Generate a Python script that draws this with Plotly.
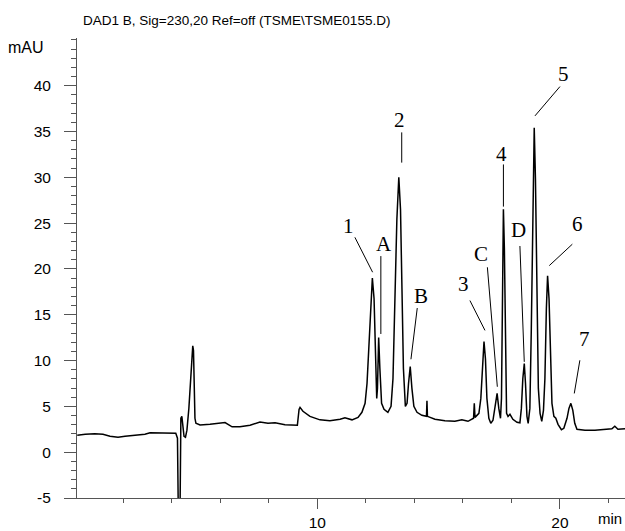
import plotly.graph_objects as go

# Chromatogram trace (time in min, absorbance in mAU)
time_min = [0.11, 0.44, 0.83, 1.17, 1.46, 1.79, 2.08, 2.49, 2.90, 3.11, 3.52, 3.93, 4.17, 4.24, 4.28, 4.34,
            4.38, 4.42, 4.51, 4.57, 4.63, 4.71, 4.80, 4.87, 4.90, 4.96, 5.00, 5.17, 5.58, 5.99, 6.20, 6.49,
            6.81, 7.23, 7.64, 7.97, 8.26, 8.67, 9.08, 9.18, 9.25, 9.29, 9.41, 9.70, 10.11, 10.52, 10.94,
            11.14, 11.43, 11.68, 11.84, 11.97, 12.05, 12.13, 12.22, 12.27, 12.34, 12.40, 12.45, 12.48,
            12.53, 12.58, 12.65, 12.75, 12.91, 13.04, 13.12, 13.20, 13.28, 13.36, 13.43, 13.49, 13.55,
            13.63, 13.70, 13.76, 13.83, 13.90, 13.98, 14.11, 14.31, 14.50, 14.52, 14.54, 14.85, 15.26,
            15.67, 15.96, 16.21, 16.44, 16.47, 16.50, 16.66, 16.74, 16.81, 16.87, 16.93, 16.99, 17.07,
            17.15, 17.24, 17.34, 17.41, 17.48, 17.55, 17.59, 17.63, 17.67, 17.71, 17.75, 17.80, 17.86,
            17.94, 18.06, 18.23, 18.35, 18.41, 18.47, 18.53, 18.58, 18.64, 18.69, 18.76, 18.82, 18.88,
            18.94, 18.99, 19.05, 19.11, 19.18, 19.25, 19.32, 19.38, 19.44, 19.49, 19.55, 19.61, 19.67,
            19.75, 19.83, 19.92, 20.06, 20.16, 20.29, 20.37, 20.45, 20.53, 20.61, 20.70, 21.03, 21.44,
            21.85, 22.14, 22.26, 22.39, 22.68]
absorbance_mau = [1.85, 1.96, 2.00, 1.96, 1.74, 1.63, 1.74, 1.85, 1.96, 2.12, 2.12, 2.07, 2.07, 1.52, -8.0, -8.0,
                  3.70, 3.90, 1.74, 1.63, 2.40, 4.80, 9.10, 11.6, 11.1, 3.70, 3.15, 2.97, 3.04, 3.20, 3.23, 2.77,
                  2.77, 2.93, 3.30, 3.15, 3.20, 2.99, 2.88, 2.93, 4.67, 4.89, 4.46, 3.91, 3.53, 3.42, 3.59,
                  3.75, 3.53, 3.80, 4.35, 5.33, 7.50, 11.85, 16.74, 19.0, 16.74, 11.3, 5.87, 6.96,
                  12.5, 9.13, 5.33, 4.67, 4.35, 5.00, 8.04, 16.74, 25.4, 30.0, 26.5, 17.8, 9.13,
                  5.00, 5.33, 7.50, 9.35, 6.96, 5.00, 4.35, 4.02, 3.91, 5.60, 3.91, 3.59, 3.42,
                  3.37, 3.53, 3.37, 3.70, 5.33, 3.80, 4.24, 5.87, 9.67, 12.07, 10.2, 5.87, 3.70,
                  3.15, 3.48, 5.33, 6.41, 4.78, 3.70, 5.87, 16.7, 26.5, 22.2, 10.2, 4.24, 3.91,
                  4.13, 3.59, 3.26, 3.20, 4.78, 8.04, 9.67, 7.50, 3.91, 3.15, 4.78, 13.5, 27.6,
                  35.4, 29.8, 16.7, 6.96, 4.24, 3.37, 4.57, 8.04, 15.65, 19.24, 16.74, 10.2, 5.33,
                  3.91, 3.70, 3.04, 2.45, 2.61, 3.70, 4.78, 5.33, 4.57, 3.15, 2.50, 2.39, 2.39,
                  2.50, 2.55, 2.83, 2.50, 2.55]

# Peak labels and their leader lines
peak_labels = ["1", "A", "2", "B", "3", "C", "4", "D", "5", "6", "7"]
label_t = [11.28, 12.75, 13.38, 14.26, 16.04, 16.73, 17.61, 18.31, 20.14, 20.71, 21.03]
label_a = [24.7, 22.7, 36.3, 17.0, 18.3, 21.6, 32.5, 24.2, 41.3, 24.9, 12.4]
leader_t0 = [11.55, 12.62, 13.48, 14.12, 16.29, 17.01, 17.67, 18.35, 20.00, 20.51, 20.82]
leader_a0 = [23.45, 21.4, 34.9, 15.73, 16.55, 20.18, 31.4, 22.5, 39.9, 22.7, 10.03]
leader_t1 = [12.28, 12.62, 13.48, 13.86, 16.91, 17.42, 17.67, 18.53, 18.97, 19.56, 20.59]
leader_a1 = [19.64, 12.9, 31.6, 10.14, 13.29, 7.14, 26.8, 9.86, 36.7, 20.36, 6.41]

x_tick_vals = [10, 20]
y_tick_vals = [-5, 0, 5, 10, 15, 20, 25, 30, 35, 40]

title_text = "DAD1 B, Sig=230,20 Ref=off (TSME\\TSME0155.D)"

SANS = "Liberation Sans, Arial, sans-serif"
SERIF = "Liberation Serif, Times New Roman, serif"

W, H = 625, 531
ML, MR, MT, MB = 77, 0, 38, 31
pw, ph = W - ML - MR, H - MT - MB


def px_x(px):
    return (px - ML) / pw


def px_y(py):
    return (H - MB - py) / ph


fig = go.Figure()

fig.add_trace(go.Scatter(
    x=time_min, y=absorbance_mau, mode="lines",
    line=dict(color="black", width=1.5), hoverinfo="skip", showlegend=False,
))

lx, ly = [], []
for t0, a0, t1, a1 in zip(leader_t0, leader_a0, leader_t1, leader_a1):
    lx += [t0, t1, None]
    ly += [a0, a1, None]
fig.add_trace(go.Scatter(
    x=lx, y=ly, mode="lines", line=dict(color="black", width=1),
    hoverinfo="skip", showlegend=False,
))

for lab, t, a in zip(peak_labels, label_t, label_a):
    fig.add_annotation(x=t, y=a, xref="x", yref="y", text=lab, showarrow=False,
                       font=dict(family=SERIF, size=21, color="black"),
                       xanchor="center", yanchor="middle")

fig.add_annotation(x=px_x(81), y=px_y(20), xref="paper", yref="paper", text=title_text,
                   showarrow=False, font=dict(family=SANS, size=13.5, color="black"),
                   xanchor="left", yanchor="middle")
fig.add_annotation(x=px_x(46), y=px_y(48), xref="paper", yref="paper", text="mAU",
                   showarrow=False, font=dict(family=SANS, size=16, color="black"),
                   xanchor="right", yanchor="middle")
fig.add_annotation(x=px_x(610), y=px_y(521), xref="paper", yref="paper", text="min",
                   showarrow=False, font=dict(family=SANS, size=15, color="black"),
                   xanchor="center", yanchor="middle")

fig.update_layout(
    width=W, height=H,
    margin=dict(l=ML, r=MR, t=MT, b=MB),
    paper_bgcolor="white", plot_bgcolor="white",
    showlegend=False,
)

fig.update_xaxes(
    range=[0.1, 22.68], showgrid=False, zeroline=False,
    showline=True, linecolor="#555", linewidth=1,
    tickmode="array", tickvals=x_tick_vals, ticktext=[str(v) for v in x_tick_vals],
    ticks="outside", ticklen=10, tickcolor="#555", tickwidth=1,
    minor=dict(dtick=2, tick0=0, ticks="outside", ticklen=4, tickcolor="#555", showgrid=False),
    tickfont=dict(family=SANS, size=15.5, color="black"),
)
fig.update_yaxes(
    range=[-5, 45.2], showgrid=False, zeroline=False,
    showline=True, linecolor="#555", linewidth=1,
    tickmode="array", tickvals=y_tick_vals, ticktext=[str(v) for v in y_tick_vals],
    ticks="outside", ticklen=12, tickcolor="#555", tickwidth=1,
    minor=dict(dtick=1, tick0=0, ticks="outside", ticklen=5, tickcolor="#555", showgrid=False),
    tickfont=dict(family=SANS, size=15.5, color="black"),
    ticklabelstandoff=10,
)

fig.write_html("out.html")
